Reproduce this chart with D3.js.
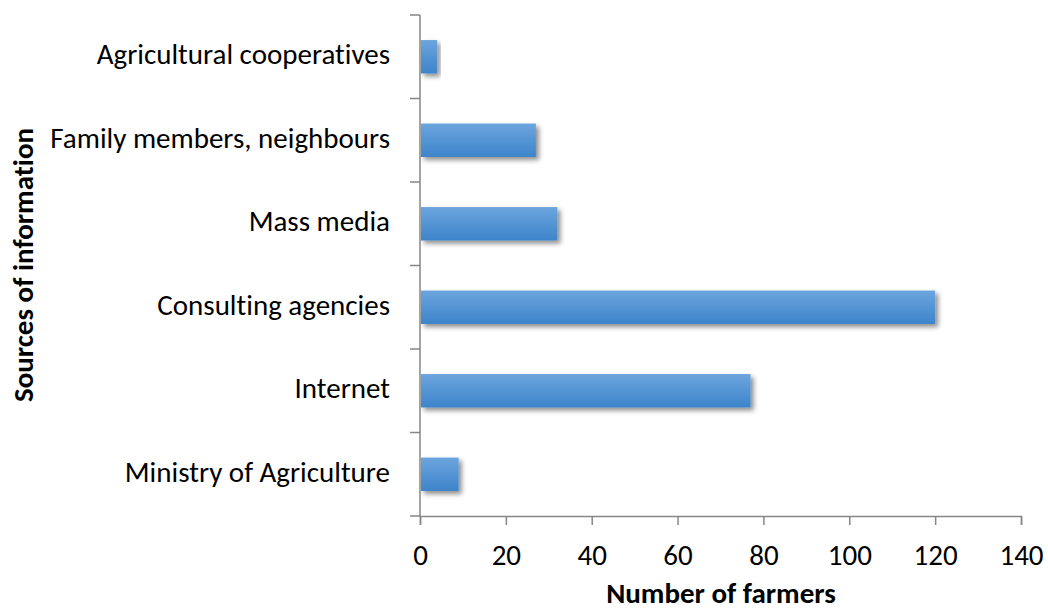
<!DOCTYPE html>
<html><head><meta charset="utf-8">
<script src="https://cdn.jsdelivr.net/npm/d3@7"></script>
<style>body{margin:0;background:#fff}svg{display:block}text{font-variant-ligatures:none;font-feature-settings:"liga" 0}</style>
</head><body>
<svg id="c" width="1048" height="610"></svg>
<script>
const categories = ["Agricultural cooperatives","Family members, neighbours","Mass media","Consulting agencies","Internet","Ministry of Agriculture"];
const values = [4, 27, 32, 120, 77, 9];
const xTicks = [0,20,40,60,80,100,120,140];
const xTitle = "Number of farmers";
const yTitle = "Sources of information";

const svg = d3.select("#c");
const font = "Carlito, Calibri, 'Open Sans', sans-serif";
const defs = svg.append("defs");
const g = defs.append("linearGradient").attr("id","bg").attr("x1",0).attr("y1",0).attr("x2",0).attr("y2",1);
g.append("stop").attr("offset","0%").attr("stop-color","#6ca5de");
g.append("stop").attr("offset","100%").attr("stop-color","#3d84ca");
const f = defs.append("filter").attr("id","sh").attr("x","-10%").attr("y","-20%").attr("width","130%").attr("height","160%");
f.append("feDropShadow").attr("dx",3).attr("dy",3).attr("stdDeviation",2.5).attr("flood-color","#000").attr("flood-opacity",0.45);

const x = d3.scaleLinear().domain([0,140]).range([420,1021]);
const y = d3.scaleBand().domain(categories).range([15,516]).paddingInner(0.6).paddingOuter(0.3);

svg.append("g").selectAll("rect").data(categories).join("rect")
  .attr("x", x(0)+1)
  .attr("y", d=>y(d))
  .attr("width", (d,i)=>x(values[i])-x(0)-1)
  .attr("height", y.bandwidth())
  .attr("fill","url(#bg)")
  .attr("filter","url(#sh)");

const axisColor = "#868686";
const ya = svg.append("g");
ya.append("line").attr("x1",420).attr("x2",420).attr("y1",15).attr("y2",516).attr("stroke",axisColor).attr("stroke-width",1.5);
const bounds = categories.map(c=>y(c)-y.step()*y.paddingInner()/2).concat([516]);
ya.selectAll("line.t").data(bounds).join("line").attr("class","t")
  .attr("x1",410).attr("x2",420).attr("y1",d=>d).attr("y2",d=>d).attr("stroke",axisColor).attr("stroke-width",1.5);
ya.selectAll("text").data(categories).join("text")
  .attr("x",390).attr("y",d=>y(d)+y.bandwidth()/2).attr("dy","0.25em")
  .attr("text-anchor","end").attr("font-family",font).attr("font-size",29).attr("fill","#000").text(d=>d);

const xa = svg.append("g").attr("transform","translate(0,516)");
const xAxis = d3.axisBottom(x).tickValues(xTicks).tickSize(9).tickPadding(19).tickFormat(d3.format("d"));
xa.call(xAxis);
xa.select(".domain").attr("stroke",axisColor).attr("stroke-width",1.5);
xa.selectAll(".tick line").attr("stroke",axisColor).attr("stroke-width",1.5);
xa.selectAll(".tick text").attr("font-family",font).attr("font-size",29).attr("fill","#000");

svg.append("text").attr("x",721).attr("y",603).attr("text-anchor","middle")
  .attr("font-family",font).attr("font-weight","bold").attr("font-size",29).text(xTitle);
svg.append("text").attr("transform","translate(33,265) rotate(-90)").attr("text-anchor","middle")
  .attr("font-family",font).attr("font-weight","bold").attr("font-size",29).text(yTitle);
</script>
</body></html>
